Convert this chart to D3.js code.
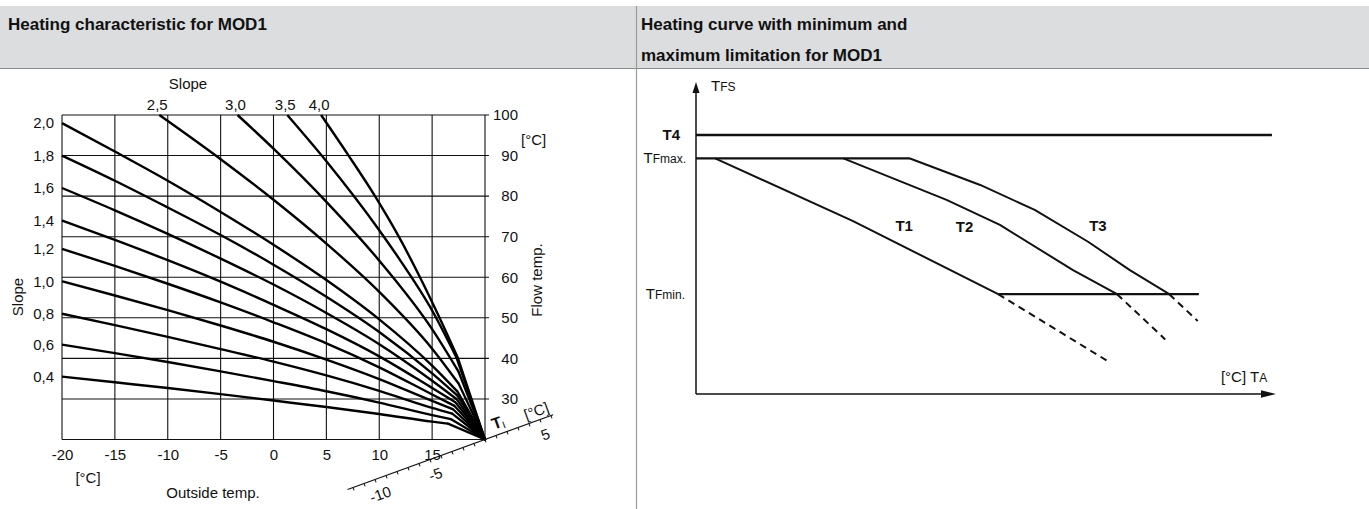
<!DOCTYPE html>
<html><head><meta charset="utf-8">
<script src="https://cdn.jsdelivr.net/npm/d3@7"></script>
<style>
body{margin:0;background:#fff}
svg{display:block}
text{font-family:"Liberation Sans",Arial,Helvetica,sans-serif;fill:#111}
</style></head>
<body><svg id="c" width="1369" height="509"></svg>
<script>
// ---------- DATA ----------
const titleLeft = "Heating characteristic for MOD1";
const titleRight = ["Heating curve with minimum and", "maximum limitation for MOD1"];

const outsideTicks = [-20, -15, -10, -5, 0, 5, 10, 15];
const outsideGrid = [-20, -15, -10, -5, 0, 5, 10, 15, 20];
const flowTicks = [100, 90, 80, 70, 60, 50, 40, 30];
const flowGrid = [100, 90, 80, 70, 60, 50, 40, 30, 20];

// heating curves: [outside temp, flow temp]; last point = where the curve joins the straight run to the common point
const slope04 = [[-20,35.5],[-15,34.1],[-10,32.7],[-5,31.2],[0,29.6],[5,28],[10,26.3],[15,24.4],[16.5,23.9]];
const slope06 = [[-20,43.4],[-15,41.3],[-10,39.1],[-5,36.8],[0,34.4],[5,31.9],[10,29.1],[15,26],[16.8,25]];
const slope08 = [[-20,51],[-15,48.2],[-10,45.3],[-5,42.3],[0,39.2],[5,35.8],[10,32],[15,27.8],[16.9,26.4]];
const slope10 = [[-20,59],[-15,55.5],[-10,51.9],[-5,48.1],[0,44.1],[5,39.7],[10,34.9],[15,29.5],[17,27.4]];
const slope12 = [[-20,67],[-15,62.8],[-10,58.4],[-5,53.8],[0,48.9],[5,43.7],[10,37.8],[15,31.1],[17.1,28.3]];
const slope14 = [[-20,74],[-15,69.2],[-10,64.2],[-5,58.9],[0,53.2],[5,47.2],[10,40.5],[15,32.7],[17.2,29.2]];
const slope16 = [[-20,82],[-15,76.5],[-10,70.7],[-5,64.6],[0,58.2],[5,51.2],[10,43.5],[15,34.5],[17.3,30]];
const slope18 = [[-20,90],[-15,83.8],[-10,77.2],[-5,70.4],[0,63.1],[5,55.2],[10,46.5],[15,36.3],[17.4,30.8]];
const slope20 = [[-20,98],[-15,91],[-10,83.8],[-5,76.1],[0,68],[5,59.3],[10,49.6],[15,38.2],[17.4,31.8]];
const slope25 = [[-10.8,100],[-5,89.1],[0,79.1],[5,68.3],[10,56.4],[15,42.4],[17.5,33.8]];
const slope30 = [[-3.4,100],[0,91.7],[5,78.6],[10,64.1],[15,47.2],[17.5,36.7]];
const slope35 = [[1.3,100],[5,88.6],[10,71.6],[12,64.1],[15,51.8],[17.3,40.2]];
const slope40 = [[4.5,100],[7.1,90],[9.6,80],[11.85,70],[13.85,60],[15.7,50],[17.45,40]];
const commonPoint = [20, 20];

const leftSlopeLabels = ["2,0","1,8","1,6","1,4","1,2","1,0","0,8","0,6","0,4"];
const topSlopeLabels = ["2,5","3,0","3,5","4,0"];

// room temperature oblique axis
const roomAxisRange = [-12.5, 6.2];
const roomAxisLabels = [-10, -5, 5];

// right chart (schematic units 0..100)
const levelT4 = 83;
const levelTFmax = 75.5;
const levelTFmin = 32;
const spanT4 = [0, 99.3];
const spanTFmax = [0, 36.9];
const spanTFmin = [52.1, 86.7];
const curveT1 = [[3.3,75.5],[27,55.5],[52.1,32]];
const curveT1dash = [[52.1,32],[71.1,10.4]];
const curveT2 = [[25.4,75.5],[43.2,62.2],[52.4,54.2],[65,39.7],[72.6,32]];
const curveT2dash = [[72.6,32],[80.9,17.5]];
const curveT3 = [[36.9,75.5],[49,67],[58.4,59],[67.6,48.8],[74.8,39.7],[81.6,32]];
const curveT3dash = [[81.6,32],[86.5,23.4]];
const curveLabels = [["T1",35.9,54],["T2",46.3,53.5],["T3",69.3,54]];

// ---------- DRAW ----------
const W = 1369, H = 509;
const svg = d3.select("#c");

svg.append("rect").attr("x",0).attr("y",6).attr("width",W).attr("height",62).attr("fill","#dcdddf");
svg.append("line").attr("x1",0).attr("x2",W).attr("y1",68.5).attr("y2",68.5).attr("stroke","#8a8a8a").attr("stroke-width",1);
svg.append("line").attr("x1",636.5).attr("x2",636.5).attr("y1",6).attr("y2",H).attr("stroke","#9a9a9a").attr("stroke-width",1.2);
svg.append("text").attr("x",8).attr("y",30).attr("font-size",17).attr("font-weight","bold").text(titleLeft);
svg.append("text").attr("x",641).attr("y",30).attr("font-size",17).attr("font-weight","bold").text(titleRight[0]);
svg.append("text").attr("x",641).attr("y",61).attr("font-size",17).attr("font-weight","bold").text(titleRight[1]);

// ---- left chart ----
const xL = d3.scaleLinear().domain([-20,20]).range([62,485]);
const yL = d3.scaleLinear().domain([20,100]).range([439.5,115]);
const gL = svg.append("g");

gL.selectAll("line.v").data(outsideGrid).join("line")
  .attr("x1",d=>xL(d)).attr("x2",d=>xL(d)).attr("y1",yL(100)).attr("y2",yL(20))
  .attr("stroke","#111").attr("stroke-width",1.1);
gL.selectAll("line.h").data(flowGrid).join("line")
  .attr("x1",xL(-20)).attr("x2",d=>d===20?xL(20):xL(20)+4).attr("y1",d=>yL(d)).attr("y2",d=>yL(d))
  .attr("stroke","#111").attr("stroke-width",1.1);

const axR = d3.axisRight(yL).tickValues(flowTicks).tickSize(0).tickFormat(d3.format("d"));
const gAxR = gL.append("g").attr("transform",`translate(${xL(20)},0)`).call(axR);
gAxR.select(".domain").remove();
gAxR.selectAll("text").attr("x",33).attr("text-anchor","end").attr("font-size",15)
  .attr("font-family","Liberation Sans, Arial, sans-serif").attr("fill","#111");

const axB = d3.axisBottom(xL).tickValues(outsideTicks).tickSize(0).tickPadding(10).tickFormat(d=>String(d));
const gAxB = gL.append("g").attr("transform",`translate(0,${yL(20)})`).call(axB);
gAxB.select(".domain").remove();
gAxB.selectAll("text").attr("font-size",15).attr("font-family","Liberation Sans, Arial, sans-serif").attr("fill","#111");

const line = d3.line().x(d=>xL(d[0])).y(d=>yL(d[1])).curve(d3.curveMonotoneX);
const straight = d3.line().x(d=>xL(d[0])).y(d=>yL(d[1]));
const leftCurves = [slope20,slope18,slope16,slope14,slope12,slope10,slope08,slope06,slope04];
const topCurves = [slope25,slope30,slope35,slope40];
const allCurves = leftCurves.concat(topCurves);
gL.selectAll("path.c").data(allCurves).join("path")
  .attr("d",line).attr("fill","none").attr("stroke","#000").attr("stroke-width",2.4)
  .attr("stroke-linecap","butt").attr("stroke-linejoin","round");
gL.selectAll("path.s").data(allCurves).join("path")
  .attr("d",d=>straight([d[d.length-1], commonPoint])).attr("fill","none").attr("stroke","#000").attr("stroke-width",2.3)
  .attr("stroke-linecap","round");

gL.selectAll("text.ls").data(leftCurves).join("text")
  .attr("x",xL(-20)-8).attr("y",d=>yL(d[0][1])).attr("dy","0.35em")
  .attr("text-anchor","end").attr("font-size",15).text((d,i)=>leftSlopeLabels[i]);
gL.selectAll("text.ts").data(topCurves).join("text")
  .attr("x",d=>xL(d[0][0])-2).attr("y",110).attr("text-anchor","middle").attr("font-size",15)
  .text((d,i)=>topSlopeLabels[i]);

gL.append("text").attr("x",188).attr("y",89).attr("text-anchor","middle").attr("font-size",15).text("Slope");
gL.append("text").attr("transform","translate(23,297) rotate(-90)").attr("text-anchor","middle").attr("font-size",15).text("Slope");
gL.append("text").attr("transform","translate(542,280) rotate(-90)").attr("text-anchor","middle").attr("font-size",15).text("Flow temp.");
gL.append("text").attr("x",521).attr("y",145).attr("font-size",15).text("[°C]");
gL.append("text").attr("x",88).attr("y",483).attr("text-anchor","middle").attr("font-size",15).text("[°C]");
gL.append("text").attr("x",213).attr("y",498).attr("text-anchor","middle").attr("font-size",15).text("Outside temp.");

// oblique room temperature axis
const tScale = d3.scaleLinear().domain([0,1]).range([0,11.7]);
const gT = gL.append("g").attr("transform",`translate(${xL(20)},${yL(20)}) rotate(-20)`);
gT.append("line").attr("x1",tScale(roomAxisRange[0])).attr("x2",tScale(roomAxisRange[1]))
  .attr("y1",0).attr("y2",0).attr("stroke","#111").attr("stroke-width",1.2);
gT.selectAll("line.tk").data(d3.range(-12,7)).join("line")
  .attr("x1",d=>tScale(d)).attr("x2",d=>tScale(d)).attr("y1",0).attr("y2",3)
  .attr("stroke","#111").attr("stroke-width",1);
gT.selectAll("text.tl").data(roomAxisLabels).join("text")
  .attr("x",d=>tScale(d)).attr("y",21).attr("text-anchor","middle").attr("font-size",15).text(d=>String(d));
const tiLab = gT.append("text").attr("x",18).attr("y",-6).attr("text-anchor","middle").attr("font-size",16);
tiLab.append("tspan").attr("font-weight","bold").text("T");
tiLab.append("tspan").attr("font-size",10).attr("dy",2).text("I");
gT.append("text").attr("x",58).attr("y",-4).attr("text-anchor","middle").attr("font-size",15).text("[°C]");

// ---- right chart ----
const xR = d3.scaleLinear().domain([0,100]).range([696,1276]);
const yR = d3.scaleLinear().domain([0,100]).range([394,82]);
const gR = svg.append("g");
gR.append("line").attr("x1",xR(0)).attr("x2",xR(0)).attr("y1",yR(0)).attr("y2",yR(100)+6)
  .attr("stroke","#111").attr("stroke-width",1.5);
gR.append("path").attr("d",`M${xR(0)},${yR(100)} l-3.5,11 l7,0 z`).attr("fill","#111");
gR.append("line").attr("x1",xR(0)).attr("x2",xR(100)-8).attr("y1",yR(0)).attr("y2",yR(0))
  .attr("stroke","#111").attr("stroke-width",1.5);
gR.append("path").attr("d",`M${xR(100)},${yR(0)} l-15,-3.8 l0,7.6 z`).attr("fill","#111");

const lineR = d3.line().x(d=>xR(d[0])).y(d=>yR(d[1]));
gR.append("path").attr("d",lineR([[spanT4[0],levelT4],[spanT4[1],levelT4]])).attr("stroke","#111").attr("stroke-width",2.6).attr("fill","none");
gR.append("path").attr("d",lineR([[spanTFmax[0],levelTFmax],[spanTFmax[1],levelTFmax]])).attr("stroke","#111").attr("stroke-width",2.2).attr("fill","none");
gR.append("path").attr("d",lineR([[spanTFmin[0],levelTFmin],[spanTFmin[1],levelTFmin]])).attr("stroke","#111").attr("stroke-width",2.4).attr("fill","none");
[curveT1,curveT2,curveT3].forEach(c=>{
  gR.append("path").attr("d",lineR(c)).attr("stroke","#111").attr("stroke-width",2).attr("fill","none").attr("stroke-linejoin","round");
});
[curveT1dash,curveT2dash,curveT3dash].forEach(c=>{
  gR.append("path").attr("d",lineR(c)).attr("stroke","#111").attr("stroke-width",2).attr("fill","none").attr("stroke-dasharray","7,5");
});
gR.selectAll("text.cl").data(curveLabels).join("text")
  .attr("x",d=>xR(d[1])).attr("y",d=>yR(d[2])).attr("dy","0.35em").attr("text-anchor","middle")
  .attr("font-size",15).attr("font-weight","bold").text(d=>d[0]);

function tLabel(x, y, main, sub, anchor, bold){
  const t = gR.append("text").attr("x",x).attr("y",y).attr("text-anchor",anchor||"start").attr("font-size",15);
  if(bold) t.attr("font-weight","bold");
  t.append("tspan").text(main);
  if(sub) t.append("tspan").attr("font-size",12).text(sub);
  return t;
}
tLabel(xR(0)+15, yR(100)+9, "T", "FS");
tLabel(xR(0)-16, yR(levelT4)+5, "T4", null, "end", true);
tLabel(xR(0)-10, yR(levelTFmax)+5, "T", "Fmax.", "end");
tLabel(xR(0)-11, yR(levelTFmin)+5, "T", "Fmin.", "end");
tLabel(xR(90.5), yR(0)-12, "[°C] T", "A");
</script></body></html>
